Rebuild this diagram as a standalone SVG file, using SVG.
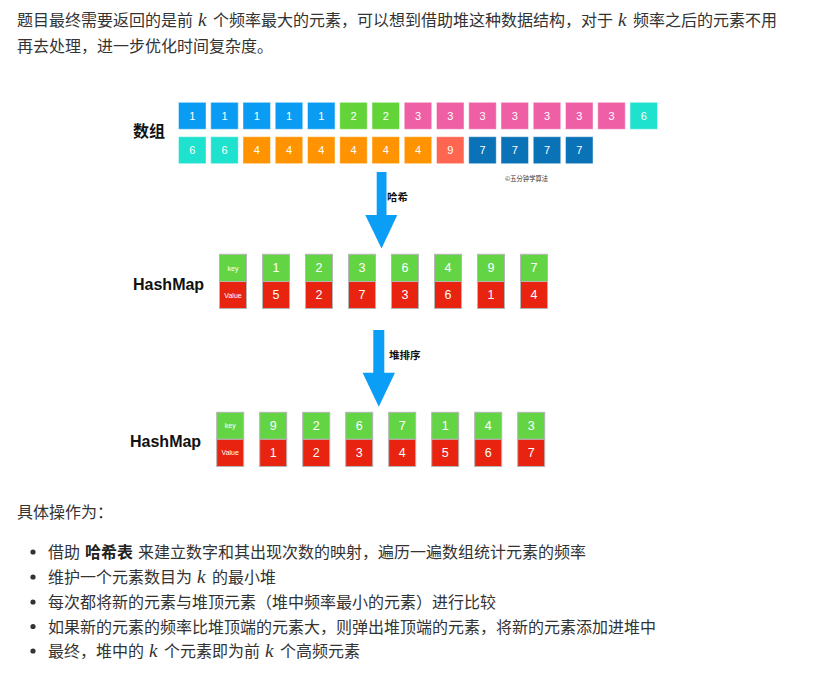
<svg xmlns="http://www.w3.org/2000/svg" width="820" height="675" viewBox="0 0 820 675">
<style>
.p{font-family:"Noto Sans CJK SC","Noto Sans",sans-serif;font-size:16px;fill:#333}
.b{font-weight:bold;fill:#222}
.k{font-family:"Liberation Serif","DejaVu Serif",serif;font-style:italic;font-size:19px;fill:#333}
.n{font-family:"Liberation Sans",Arial,sans-serif;font-size:11px;fill:#fff;text-anchor:middle}
.m{font-family:"Liberation Sans",Arial,sans-serif;font-size:12.5px;fill:#fff;text-anchor:middle}
.s{font-family:"Liberation Sans",Arial,sans-serif;font-size:7px;fill:#fff;text-anchor:middle}
.lbl{font-family:"Liberation Sans",Arial,sans-serif;font-size:16px;font-weight:bold;fill:#111}
.cj{font-family:"Noto Sans CJK SC",sans-serif;font-weight:bold;fill:#111}
.cell{stroke:#fff;stroke-opacity:.45;stroke-width:1}
.v1{fill:#0A9CF2}.v2{fill:#62D43A}.v3{fill:#EE5FA6}.v6{fill:#1FE2CE}.v4{fill:#FF9400}.v9{fill:#FF6652}.v7{fill:#0A72B6}
.hk{fill:#63D545;stroke:#b5b5b5;stroke-width:1}
.hv{fill:#E8230F;stroke:#b5b5b5;stroke-width:1}
.arr{fill:#0A9EF7}
</style>

<g id="intro">
<text class="p" y="25.5"><tspan x="17">题目最终需要返回的是前</tspan><tspan class="k" x="198">k</tspan><tspan x="213">个频率最大的元素，可以想到借助堆这种数据结构，对于</tspan><tspan class="k" x="618">k</tspan><tspan x="633">频率之后的元素不用</tspan></text>
<text class="p" x="17" y="51.5">再去处理，进一步优化时间复杂度。</text>
</g>

<g id="label-array"><text class="cj" x="133" y="137" font-size="16">数组</text></g>

<g id="array-row1">
<g id="a1-0"><rect class="cell v1" x="178.5" y="102.3" width="27.5" height="27"/><text class="n" x="192.25" y="119.7">1</text></g>
<g id="a1-1"><rect class="cell v1" x="210.75" y="102.3" width="27.5" height="27"/><text class="n" x="224.5" y="119.7">1</text></g>
<g id="a1-2"><rect class="cell v1" x="243" y="102.3" width="27.5" height="27"/><text class="n" x="256.75" y="119.7">1</text></g>
<g id="a1-3"><rect class="cell v1" x="275.25" y="102.3" width="27.5" height="27"/><text class="n" x="289" y="119.7">1</text></g>
<g id="a1-4"><rect class="cell v1" x="307.5" y="102.3" width="27.5" height="27"/><text class="n" x="321.25" y="119.7">1</text></g>
<g id="a1-5"><rect class="cell v2" x="339.75" y="102.3" width="27.5" height="27"/><text class="n" x="353.5" y="119.7">2</text></g>
<g id="a1-6"><rect class="cell v2" x="372" y="102.3" width="27.5" height="27"/><text class="n" x="385.75" y="119.7">2</text></g>
<g id="a1-7"><rect class="cell v3" x="404.25" y="102.3" width="27.5" height="27"/><text class="n" x="418" y="119.7">3</text></g>
<g id="a1-8"><rect class="cell v3" x="436.5" y="102.3" width="27.5" height="27"/><text class="n" x="450.25" y="119.7">3</text></g>
<g id="a1-9"><rect class="cell v3" x="468.75" y="102.3" width="27.5" height="27"/><text class="n" x="482.5" y="119.7">3</text></g>
<g id="a1-10"><rect class="cell v3" x="501" y="102.3" width="27.5" height="27"/><text class="n" x="514.75" y="119.7">3</text></g>
<g id="a1-11"><rect class="cell v3" x="533.25" y="102.3" width="27.5" height="27"/><text class="n" x="547" y="119.7">3</text></g>
<g id="a1-12"><rect class="cell v3" x="565.5" y="102.3" width="27.5" height="27"/><text class="n" x="579.25" y="119.7">3</text></g>
<g id="a1-13"><rect class="cell v3" x="597.75" y="102.3" width="27.5" height="27"/><text class="n" x="611.5" y="119.7">3</text></g>
<g id="a1-14"><rect class="cell v6" x="630" y="102.3" width="27.5" height="27"/><text class="n" x="643.75" y="119.7">6</text></g>
</g>

<g id="array-row2">
<g id="a2-0"><rect class="cell v6" x="178.5" y="136.7" width="27.5" height="27"/><text class="n" x="192.25" y="154.1">6</text></g>
<g id="a2-1"><rect class="cell v6" x="210.75" y="136.7" width="27.5" height="27"/><text class="n" x="224.5" y="154.1">6</text></g>
<g id="a2-2"><rect class="cell v4" x="243" y="136.7" width="27.5" height="27"/><text class="n" x="256.75" y="154.1">4</text></g>
<g id="a2-3"><rect class="cell v4" x="275.25" y="136.7" width="27.5" height="27"/><text class="n" x="289" y="154.1">4</text></g>
<g id="a2-4"><rect class="cell v4" x="307.5" y="136.7" width="27.5" height="27"/><text class="n" x="321.25" y="154.1">4</text></g>
<g id="a2-5"><rect class="cell v4" x="339.75" y="136.7" width="27.5" height="27"/><text class="n" x="353.5" y="154.1">4</text></g>
<g id="a2-6"><rect class="cell v4" x="372" y="136.7" width="27.5" height="27"/><text class="n" x="385.75" y="154.1">4</text></g>
<g id="a2-7"><rect class="cell v4" x="404.25" y="136.7" width="27.5" height="27"/><text class="n" x="418" y="154.1">4</text></g>
<g id="a2-8"><rect class="cell v9" x="436.5" y="136.7" width="27.5" height="27"/><text class="n" x="450.25" y="154.1">9</text></g>
<g id="a2-9"><rect class="cell v7" x="468.75" y="136.7" width="27.5" height="27"/><text class="n" x="482.5" y="154.1">7</text></g>
<g id="a2-10"><rect class="cell v7" x="501" y="136.7" width="27.5" height="27"/><text class="n" x="514.75" y="154.1">7</text></g>
<g id="a2-11"><rect class="cell v7" x="533.25" y="136.7" width="27.5" height="27"/><text class="n" x="547" y="154.1">7</text></g>
<g id="a2-12"><rect class="cell v7" x="565.5" y="136.7" width="27.5" height="27"/><text class="n" x="579.25" y="154.1">7</text></g>
</g>

<g id="watermark"><text x="505" y="180.5" font-family="Noto Sans CJK SC,sans-serif" font-size="6.3" fill="#333">©五分钟学算法</text></g>

<g id="connectors">
<polygon class="arr" points="376.7,172 386.5,172 386.5,215 397.3,215 381.5,248.5 365.3,215 376.7,215"/>
<text class="cj" x="387" y="200.8" font-size="10.5">哈希</text>
<polygon class="arr" points="373.3,330 384.3,330 384.3,372.7 395,372.7 378.8,406.8 362.6,372.7 373.3,372.7"/>
<text class="cj" x="389" y="358.8" font-size="10.5">堆排序</text>
</g>

<g id="hashmap1">
<text class="lbl" x="133" y="289.8">HashMap</text>
<g id="h1-head"><rect class="hk" x="219.5" y="254.3" width="27" height="27.2"/><rect class="hv" x="219.5" y="281.5" width="27" height="27"/><text class="s" x="233" y="270.5">key</text><text class="s" x="233" y="297.5">Value</text></g>
<g id="h1-0"><rect class="hk" x="262.5" y="254.3" width="27" height="27.2"/><rect class="hv" x="262.5" y="281.5" width="27" height="27"/><text class="m" x="276" y="272.4">1</text><text class="m" x="276" y="299.4">5</text></g>
<g id="h1-1"><rect class="hk" x="305.5" y="254.3" width="27" height="27.2"/><rect class="hv" x="305.5" y="281.5" width="27" height="27"/><text class="m" x="319" y="272.4">2</text><text class="m" x="319" y="299.4">2</text></g>
<g id="h1-2"><rect class="hk" x="348.5" y="254.3" width="27" height="27.2"/><rect class="hv" x="348.5" y="281.5" width="27" height="27"/><text class="m" x="362" y="272.4">3</text><text class="m" x="362" y="299.4">7</text></g>
<g id="h1-3"><rect class="hk" x="391.5" y="254.3" width="27" height="27.2"/><rect class="hv" x="391.5" y="281.5" width="27" height="27"/><text class="m" x="405" y="272.4">6</text><text class="m" x="405" y="299.4">3</text></g>
<g id="h1-4"><rect class="hk" x="434.5" y="254.3" width="27" height="27.2"/><rect class="hv" x="434.5" y="281.5" width="27" height="27"/><text class="m" x="448" y="272.4">4</text><text class="m" x="448" y="299.4">6</text></g>
<g id="h1-5"><rect class="hk" x="477.5" y="254.3" width="27" height="27.2"/><rect class="hv" x="477.5" y="281.5" width="27" height="27"/><text class="m" x="491" y="272.4">9</text><text class="m" x="491" y="299.4">1</text></g>
<g id="h1-6"><rect class="hk" x="520.5" y="254.3" width="27" height="27.2"/><rect class="hv" x="520.5" y="281.5" width="27" height="27"/><text class="m" x="534" y="272.4">7</text><text class="m" x="534" y="299.4">4</text></g>
</g>

<g id="hashmap2">
<text class="lbl" x="130" y="446.5">HashMap</text>
<g id="h2-head"><rect class="hk" x="216.7" y="412.3" width="27" height="27"/><rect class="hv" x="216.7" y="439.3" width="27" height="27.2"/><text class="s" x="230.2" y="428.3">key</text><text class="s" x="230.2" y="455.4">Value</text></g>
<g id="h2-0"><rect class="hk" x="259.7" y="412.3" width="27" height="27"/><rect class="hv" x="259.7" y="439.3" width="27" height="27.2"/><text class="m" x="273.2" y="430.2">9</text><text class="m" x="273.2" y="457.3">1</text></g>
<g id="h2-1"><rect class="hk" x="302.7" y="412.3" width="27" height="27"/><rect class="hv" x="302.7" y="439.3" width="27" height="27.2"/><text class="m" x="316.2" y="430.2">2</text><text class="m" x="316.2" y="457.3">2</text></g>
<g id="h2-2"><rect class="hk" x="345.7" y="412.3" width="27" height="27"/><rect class="hv" x="345.7" y="439.3" width="27" height="27.2"/><text class="m" x="359.2" y="430.2">6</text><text class="m" x="359.2" y="457.3">3</text></g>
<g id="h2-3"><rect class="hk" x="388.7" y="412.3" width="27" height="27"/><rect class="hv" x="388.7" y="439.3" width="27" height="27.2"/><text class="m" x="402.2" y="430.2">7</text><text class="m" x="402.2" y="457.3">4</text></g>
<g id="h2-4"><rect class="hk" x="431.7" y="412.3" width="27" height="27"/><rect class="hv" x="431.7" y="439.3" width="27" height="27.2"/><text class="m" x="445.2" y="430.2">1</text><text class="m" x="445.2" y="457.3">5</text></g>
<g id="h2-5"><rect class="hk" x="474.7" y="412.3" width="27" height="27"/><rect class="hv" x="474.7" y="439.3" width="27" height="27.2"/><text class="m" x="488.2" y="430.2">4</text><text class="m" x="488.2" y="457.3">6</text></g>
<g id="h2-6"><rect class="hk" x="517.7" y="412.3" width="27" height="27"/><rect class="hv" x="517.7" y="439.3" width="27" height="27.2"/><text class="m" x="531.2" y="430.2">3</text><text class="m" x="531.2" y="457.3">7</text></g>
</g>

<g id="steps">
<text class="p" x="17" y="518">具体操作为：</text>
<circle cx="33" cy="552" r="2.6" fill="#333"/>
<text class="p" y="558"><tspan x="48">借助</tspan><tspan x="85" class="b">哈希表</tspan><tspan x="138">来建立数字和其出现次数的映射，遍历一遍数组统计元素的频率</tspan></text>
<circle cx="33" cy="577" r="2.6" fill="#333"/>
<text class="p" y="583"><tspan x="48">维护一个元素数目为</tspan><tspan class="k" x="197">k</tspan><tspan x="212">的最小堆</tspan></text>
<circle cx="33" cy="602" r="2.6" fill="#333"/>
<text class="p" x="48" y="608">每次都将新的元素与堆顶元素（堆中频率最小的元素）进行比较</text>
<circle cx="33" cy="626.5" r="2.6" fill="#333"/>
<text class="p" x="48" y="632.5">如果新的元素的频率比堆顶端的元素大，则弹出堆顶端的元素，将新的元素添加进堆中</text>
<circle cx="33" cy="651" r="2.6" fill="#333"/>
<text class="p" y="657"><tspan x="48">最终，堆中的</tspan><tspan class="k" x="149">k</tspan><tspan x="164">个元素即为前</tspan><tspan class="k" x="265">k</tspan><tspan x="280">个高频元素</tspan></text>
</g>
</svg>
